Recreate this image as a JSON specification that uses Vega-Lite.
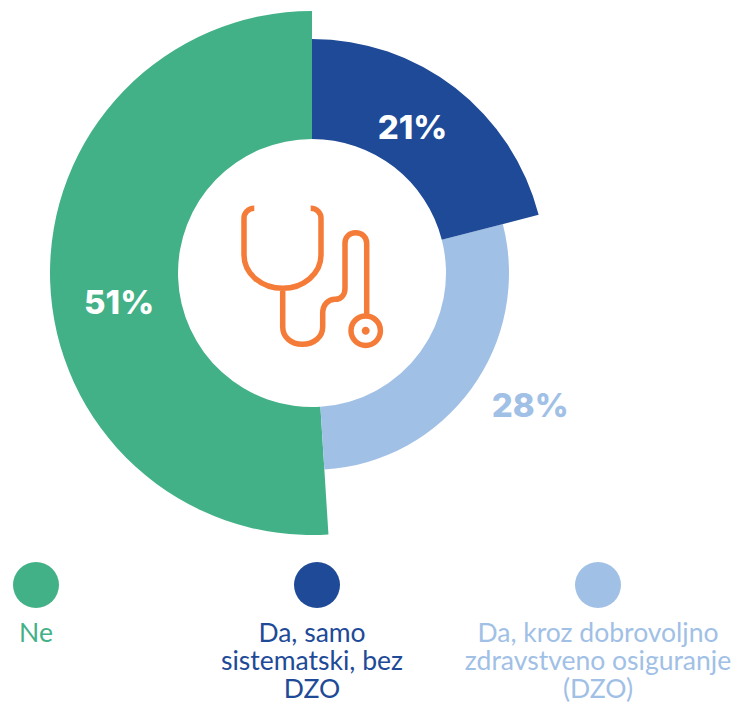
{
"$schema":"https://vega.github.io/schema/vega-lite/v6.json",
"padding":0,"spacing":0,
"background":"white",
"config":{"view":{"stroke":null},"concat":{"spacing":0}},
"datasets":{"answers":[
{"order":1,"label":"Da, samo\nsistematski, bez\nDZO","pct":21,"text":"21%"},
{"order":2,"label":"Da, kroz dobrovoljno\nzdravstveno osiguranje\n(DZO)","pct":28,"text":"28%"},
{"order":3,"label":"Ne","pct":51,"text":"51%"}
]},
"vconcat":[
{"width":624,"height":546,
"data":{"name":"answers"},
"encoding":{
"theta":{"field":"pct","type":"quantitative","stack":"zero","scale":{"domain":[0,100],"range":[0,6.2832]}},
"order":{"field":"order","type":"ordinal"},
"detail":{"field":"label"}
},
"layer":[
{"transform":[{"stack":"pct","sort":[{"field":"order","order":"ascending"}],"as":["s0","s1"]},{"filter":"datum.order===3"}],
"mark":{"type":"arc","innerRadius":134,"outerRadius":262},
"encoding":{
"theta":{"field":"s0","type":"quantitative","stack":null},
"theta2":{"field":"s1"},
"fill":{"field":"label","type":"nominal","legend":null,"scale":{"domain":["Ne","Da, samo\nsistematski, bez\nDZO","Da, kroz dobrovoljno\nzdravstveno osiguranje\n(DZO)"],"range":["#43B187","#1E4A97","#A1C0E6"]}}
}},
{"transform":[{"stack":"pct","sort":[{"field":"order","order":"ascending"}],"as":["s0","s1"]},{"filter":"datum.order===2"}],
"mark":{"type":"arc","innerRadius":134,"outerRadius":197},
"encoding":{
"theta":{"field":"s0","type":"quantitative","stack":null},
"theta2":{"field":"s1"},
"fill":{"field":"label","type":"nominal","legend":null}
}},
{"transform":[{"stack":"pct","sort":[{"field":"order","order":"ascending"}],"as":["s0","s1"]},{"filter":"datum.order===1"}],
"mark":{"type":"arc","innerRadius":134,"outerRadius":234},
"encoding":{
"theta":{"field":"s0","type":"quantitative","stack":null},
"theta2":{"field":"s1"},
"fill":{"field":"label","type":"nominal","legend":null}
}},
{"mark":{"type":"text","radius":177,"dx":-8,"dy":-4,"font":"Inter","fontWeight":800,"fontSize":33,"fill":"#FFFFFF","align":"center","baseline":"middle"},
"encoding":{"text":{"condition":{"test":"datum.order===1","field":"text"},"value":""}}},
{"mark":{"type":"text","radius":255,"dx":12,"dy":-16,"font":"Inter","fontWeight":800,"fontSize":33,"fill":"#A1C0E6","align":"center","baseline":"middle"},
"encoding":{"text":{"condition":{"test":"datum.order===2","field":"text"},"value":""}}},
{"mark":{"type":"text","radius":195,"dx":2,"dy":25,"font":"Inter","fontWeight":800,"fontSize":33,"fill":"#FFFFFF","align":"center","baseline":"middle"},
"encoding":{"text":{"condition":{"test":"datum.order===3","field":"text"},"value":""}}},
{"data":{"values":[{"icon":"stethoscope"}]},
"mark":{"type":"point","size":4,"filled":false,"opacity":1,"fill":"transparent","stroke":"#F57B38","strokeWidth":5.5,
"shape":"M-57.7 -64.7 C-64 -64.7 -68 -60 -68 -54.7 L-68 -18 C-68 1 -50 15.3 -29.3 15.3 C-9 15.3 9 1 9 -18 L9 -54.7 C9 -60 5 -64.7 -1.3 -64.7 M-29.3 15.3 L-29.3 53.7 C-29.3 64 -21 71.3 -9.7 71.3 C2 71.3 10.7 64 10.7 53.7 L10.7 40.3 C10.7 32 16 26.3 23 26.3 C29 26.3 33 22 33 15.3 L33 -29.7 C33 -36 37.5 -40.3 43.6 -40.3 C50 -40.3 54.7 -36 54.7 -29.7 L54.7 42 M39 57.7 a14.7 14.7 0 1 0 29.4 0 a14.7 14.7 0 1 0 -29.4 0"},
"encoding":{"theta":null,"order":null,"detail":null}},
{"data":{"values":[{"icon":"stethoscope dot"}]},
"mark":{"type":"point","size":4,"filled":true,"opacity":1,"fill":"#F57B38","strokeWidth":0,
"shape":"M49.7 57.7 a4 4 0 1 0 8 0 a4 4 0 1 0 -8 0"},
"encoding":{"theta":null,"order":null,"detail":null}}
]},
{"width":733,"height":156,
"data":{"name":"answers"},
"encoding":{
"x":{"field":"label","type":"nominal","axis":null,"scale":{"domain":["Ne","Da, samo\nsistematski, bez\nDZO","Da, kroz dobrovoljno\nzdravstveno osiguranje\n(DZO)"],"range":[36,598],"padding":0}},
"fill":{"field":"label","type":"nominal","legend":null}
},
"layer":[
{"mark":{"type":"point","filled":true,"opacity":1,"size":2116,"shape":"circle"},"encoding":{"y":{"value":39}}},
{"transform":[{"filter":"datum.order!==1"}],
"mark":{"type":"text","font":"Lato","fontSize":26.5,"lineBreak":"\n","lineHeight":28,"align":"center","baseline":"top"},
"encoding":{"text":{"field":"label"},"y":{"value":75}}},
{"transform":[{"filter":"datum.order===1"}],
"mark":{"type":"text","font":"Lato","fontSize":26.5,"lineBreak":"\n","lineHeight":28,"align":"center","baseline":"top","dx":-5},
"encoding":{"text":{"field":"label"},"y":{"value":75}}}
]}
]
}
